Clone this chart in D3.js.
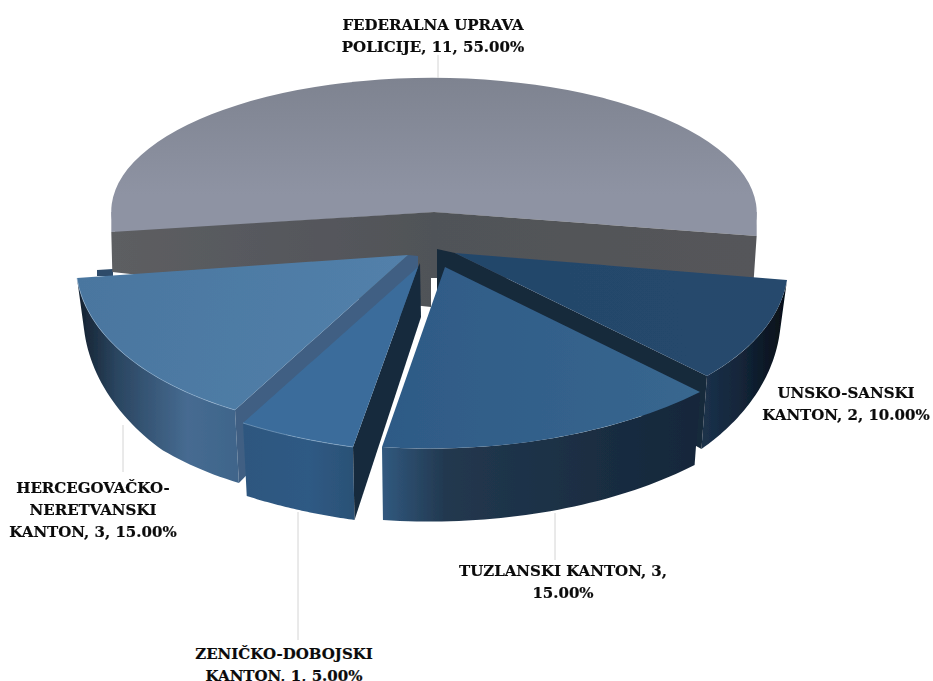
<!DOCTYPE html>
<html><head><meta charset="utf-8">
<script src="https://cdn.jsdelivr.net/npm/d3@7/dist/d3.min.js"></script>
<style>html,body{margin:0;background:#fff}svg{display:block}
text{font-family:"DejaVu Serif",serif;font-weight:700;font-size:15px;fill:#0b0b0b;stroke:#0b0b0b;stroke-width:.2px;text-anchor:middle}</style>
</head><body><svg id="c" width="933" height="681"></svg>
<script>
// data
const categories = ["UNSKO-SANSKI KANTON","TUZLANSKI KANTON","ZENIČKO-DOBOJSKI KANTON","HERCEGOVAČKO-NERETVANSKI KANTON","FEDERALNA UPRAVA POLICIJE"];
const values = [2,3,1,3,11];
const labelBreaks = [[12],[20],[16],[13,25],[16]];

// layout of each exploded slice on the page (apex + both rim corners)
const apexes  = [[455,253],[445,267],[418,267],[408,255],[434,212]];
const startCorners = [[787,280],[700,392],[353,447],[235,410],[115.5,233]];
const endCorners   = [[707,376],[382,447],[243,423],[77,278],[753,233]];
const topStops  = [
 [[0,"#23466a"],[1,"#26496d"]],
 [[0,"#2e5a86"],[1,"#38678f"]],
 [[0,"#3a6c9b"],[1,"#3a6c9b"]],
 [[0,"#4a769f"],[1,"#5280aa"]],
 [[0,"#7e8390"],[.75,"#8e93a3"],[1,"#8e93a3"]]];
const wallStops  = [
 [[0,"#1a3049"],[.4,"#14263a"],[1,"#050e17"]],
 [[0,"#31597f"],[.2,"#22384f"],[.6,"#1b2f44"],[1,"#15273a"]],
 [[0,"#2e577f"],[.6,"#2f5a84"],[1,"#2b5176"]],
 [[0,"#14202e"],[.25,"#2a4560"],[.7,"#466b91"],[1,"#3f658b"]],
 [[0,"#5d5e62"],[.5,"#505358"],[1,"#55565a"]]
];
const faceColors = ["#18293b",null,"#172b3e","#3f5f83",null];
const innerFace = [[[437,249],[437,300]],null,[[420,263],[421,317]],[[418,256],[418,300]],null];
const labelPos = [[846,398],[563,576],[284,659],[93,493],[433,30]];
const leaders = [null,[555,513,560],[298,512,640],[123,425,472],[438,55,78]];
const lineH = 22;

const svg = d3.select("#c");
const defs = svg.append("defs");
defs.append("filter").attr("id","soft").attr("x","-2%").attr("y","-2%").attr("width","104%").attr("height","104%")
  .append("feGaussianBlur").attr("stdDeviation",0.5);
const pieG = svg.append("g").attr("filter","url(#soft)");
const total = d3.sum(values);
const pie = d3.pie().sort(null).value(d=>d).startAngle(99*Math.PI/180).endAngle(459*Math.PI/180);
const arcs = pie(values);
const R = 100;
const arc = d3.arc().innerRadius(0).outerRadius(R);
const line = d3.line();

function fit(i){
  const a=arcs[i], A=apexes[i], P=startCorners[i], Q=endCorners[i];
  const [s1,c1,s2,c2]=[Math.sin(a.startAngle),-Math.cos(a.startAngle),Math.sin(a.endAngle),-Math.cos(a.endAngle)];
  const det=s1*c2-s2*c1, dx1=P[0]-A[0], dy1=P[1]-A[1], dx2=Q[0]-A[0], dy2=Q[1]-A[1];
  return {a:(dx1*c2-dx2*c1)/det, b:(s1*dx2-s2*dx1)/det, c:(dy1*c2-dy2*c1)/det, d:(s1*dy2-s2*dy1)/det, e:A[0], f:A[1]};
}
const wallH = d3.scaleLinear().domain([235,376]).range([42,73]).clamp(true);
const lower = p => [p[0]-(p[0]-430)*0.02, p[1]+wallH(p[1])];

function grad(id,x1,x2,stops,units,vertical){
  const g=defs.append("linearGradient").attr("id",id).attr("gradientUnits",units||"userSpaceOnUse")
    .attr("x1",vertical?0:x1).attr("x2",vertical?0:x2).attr("y1",vertical?x1:0).attr("y2",vertical?x2:0);
  stops.forEach(s=>g.append("stop").attr("offset",s[0]).attr("stop-color",s[1]));
  return `url(#${id})`;
}

function drawSlice(i){
  const g=pieG.append("g"), m=fit(i), a=arcs[i];
  const rim=d3.range(0,41).map(k=>{
    const t=a.startAngle+(a.endAngle-a.startAngle)*k/40, s=Math.sin(t), c=-Math.cos(t);
    return [m.e+m.a*s+m.b*c, m.f+m.c*s+m.d*c];
  });
  const xs=rim.map(p=>p[0]), x0=d3.min(xs), x1=d3.max(xs);
  const topPath=()=>g.append("path").attr("d",arc({startAngle:a.startAngle,endAngle:a.endAngle}))
    .attr("transform",`matrix(${m.a/R},${m.c/R},${m.b/R},${m.d/R},${m.e},${m.f})`)
    .attr("fill",grad("t"+i,0,1,topStops[i],"objectBoundingBox",i===4));
  if(i===4){
    const L=[x0,232],Rr=[x1,236],Ap=apexes[4];
    // corners of the back slice run straight down to its cut faces
    g.append("path").attr("fill","#8e93a3").attr("d",line([Ap,[x0,Ap[1]],L])+"Z");
    g.append("path").attr("fill","#8e93a3").attr("d",line([Ap,[x1,Ap[1]],Rr])+"Z");
    topPath();
    g.append("path").attr("fill",grad("w4",x0,x1,wallStops[4]))
     .attr("d",line([L,Ap,Rr,[Rr[0]-3,Rr[1]+44],[431,278],[431,307],[L[0]+1,L[1]+40]])+"Z");
  } else {
    const wall=[...rim,...rim.slice().reverse().map(lower)];
    g.append("path").attr("fill",grad("w"+i,x0,x1,wallStops[i])).attr("d",line(wall)+"Z");
    if(innerFace[i]){
      const S=(i===0?rim[40]:rim[0]);
      g.append("path").attr("fill",faceColors[i])
       .attr("d",line([innerFace[i][0],apexes[i],S,lower(S),innerFace[i][1]])+"Z");
    }
    topPath();
  }
  if(i===2||i===3){
    g.append("path").attr("d",line(rim)).attr("fill","none").attr("stroke","#8fb0cf").attr("stroke-opacity",.55).attr("stroke-width",1);
  }
}

pieG.append("path").attr("fill","#2f4c6b").attr("d",line([[97,270],[113,269],[113,276],[97,276]])+"Z");

[4,0,1,3,2].forEach(drawSlice);

leaders.forEach(l=>{ if(l) svg.append("line").attr("x1",l[0]).attr("x2",l[0]).attr("y1",l[1]).attr("y2",l[2]).attr("stroke","#d4d4d4"); });

categories.forEach((name,i)=>{
  const full=`${name}, ${values[i]}, ${(values[i]/total*100).toFixed(2)}%`;
  const cuts=[0,...labelBreaks[i],full.length];
  const t=svg.append("text").attr("transform",`translate(${labelPos[i][0]},${labelPos[i][1]})`);
  d3.pairs(cuts).forEach(([a,b],k)=>{
    t.append("tspan").attr("x",0).attr("y",k*lineH).text(full.slice(a,b).trim());
  });
});
</script></body></html>
